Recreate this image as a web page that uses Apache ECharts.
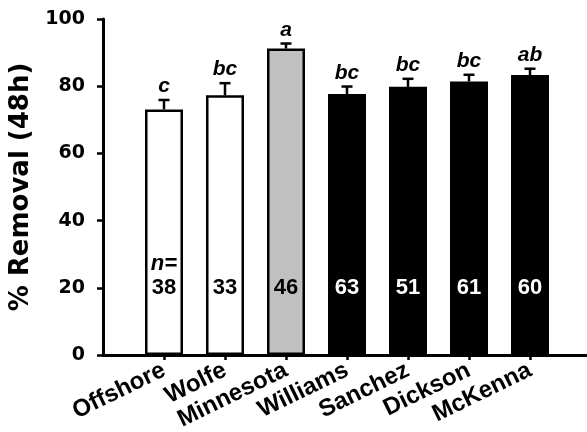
<!DOCTYPE html>
<html>
<head>
<meta charset="utf-8">
<script src="https://cdn.jsdelivr.net/npm/echarts@6/dist/echarts.min.js"></script>
<style>
  html, body { margin: 0; padding: 0; background: #fff; }
  #chart { width: 587px; height: 432px; }
</style>
</head>
<body>
<div id="chart"></div>
<script>
// Mean % removal after 48 h per site, with standard error, significance groups and sample sizes
const sites = ['Offshore', 'Wolfe', 'Minnesota', 'Williams', 'Sanchez', 'Dickson', 'McKenna'];
const removal = [73.1, 77.3, 91.2, 77.7, 79.8, 81.4, 83.3];
const stdErr = [2.8, 3.6, 1.5, 2.2, 2.4, 2.0, 1.9];
const groups = ['c', 'bc', 'a', 'bc', 'bc', 'bc', 'ab'];
const sampleSize = [38, 33, 46, 63, 51, 61, 60];
const siteKind = ['open', 'open', 'shaded', 'filled', 'filled', 'filled', 'filled'];
const yTicks = [0, 20, 40, 60, 80, 100];

const fillFor = { open: '#ffffff', shaded: '#c0c0c0', filled: '#000000' };
const textFor = { open: '#000000', shaded: '#000000', filled: '#ffffff' };

// blank slots at both ends keep the bars inset from the axes
const axisCats = [''].concat(sites, ['']);
const pos = sites.map((_, i) => i + 1);

const barData = [null].concat(sites.map((s, i) => ({
  value: removal[i],
  itemStyle: { color: fillFor[siteKind[i]] }
})), [null]);

const errData = sites.map((s, i) => [pos[i], removal[i], stdErr[i], i]);
const nData = sites.map((s, i) => [pos[i], 20, sampleSize[i], i]);

const chart = echarts.init(document.getElementById('chart'), null, { renderer: 'canvas' });

chart.setOption({
  animation: false,
  backgroundColor: '#ffffff',
  grid: { left: 103, right: -4, top: 19, bottom: 77, containLabel: false, outerBoundsMode: 'none' },
  xAxis: {
    type: 'category',
    data: axisCats,
    boundaryGap: false,
    axisLine: { show: true, lineStyle: { color: '#000', width: 3 } },
    axisTick: {
      show: true, length: 5, inside: false,
      interval: (i) => i > 0 && i < axisCats.length - 1,
      lineStyle: { color: '#000', width: 2.5 }
    },
    axisLabel: {
      interval: 0, rotate: 26, margin: 14,
      fontFamily: 'Liberation Sans', fontWeight: 'bold', fontSize: 24, color: '#000'
    },
    splitLine: { show: false }
  },
  yAxis: {
    type: 'value',
    min: yTicks[0], max: yTicks[yTicks.length - 1], interval: 20,
    name: '% Removal (48h)',
    nameLocation: 'middle',
    nameGap: 60,
    nameTextStyle: { fontFamily: 'DejaVu Sans', fontWeight: 'bold', fontSize: 26, color: '#000' },
    axisLine: { show: true, lineStyle: { color: '#000', width: 3 } },
    axisTick: { show: true, length: 6, lineStyle: { color: '#000', width: 2.5 } },
    axisLabel: {
      margin: 18,
      fontFamily: 'DejaVu Sans', fontWeight: 'bold', fontSize: 19, color: '#000'
    },
    splitLine: { show: false }
  },
  series: [
    {
      type: 'bar',
      data: barData,
      barWidth: 38,
      itemStyle: { borderColor: '#000', borderWidth: 2.5 }
    },
    {
      // upper error bar, cap and significance letters
      type: 'custom',
      data: errData,
      z: 5,
      renderItem: function (params, api) {
        const x = api.value(0), m = api.value(1), e = api.value(2);
        const base = api.coord([x, m]);
        const top = api.coord([x, m + e]);
        const i = api.value(3);
        const cap = 5.5;
        return {
          type: 'group',
          children: [
            { type: 'line', shape: { x1: base[0], y1: base[1], x2: top[0], y2: top[1] },
              style: { stroke: '#000', lineWidth: 2.5 } },
            { type: 'line', shape: { x1: top[0] - cap, y1: top[1], x2: top[0] + cap, y2: top[1] },
              style: { stroke: '#000', lineWidth: 2.5 } },
            { type: 'text', x: top[0], y: top[1] - 3,
              style: { text: groups[i], fill: '#000', align: 'center', verticalAlign: 'bottom',
                fontFamily: 'Liberation Sans', fontWeight: 'bold', fontStyle: 'italic', fontSize: 21 } }
          ]
        };
      }
    },
    {
      // sample sizes written inside the bars
      type: 'custom',
      data: nData,
      z: 6,
      renderItem: function (params, api) {
        const x = api.value(0);
        const p = api.coord([x, api.value(1)]);
        const i = api.value(3);
        const col = textFor[siteKind[i]];
        const children = [
          { type: 'text', x: p[0], y: p[1],
            style: { text: String(api.value(2)), fill: col, align: 'center', verticalAlign: 'middle',
              fontFamily: 'Liberation Sans', fontWeight: 'bold', fontSize: 22 } }
        ];
        if (i === 0) {
          children.push({ type: 'text', x: p[0], y: p[1] - 24,
            style: { text: 'n=', fill: col, align: 'center', verticalAlign: 'middle',
              fontFamily: 'Liberation Sans', fontWeight: 'bold', fontStyle: 'italic', fontSize: 22 } });
        }
        return { type: 'group', children: children };
      }
    }
  ]
});
</script>
</body>
</html>
